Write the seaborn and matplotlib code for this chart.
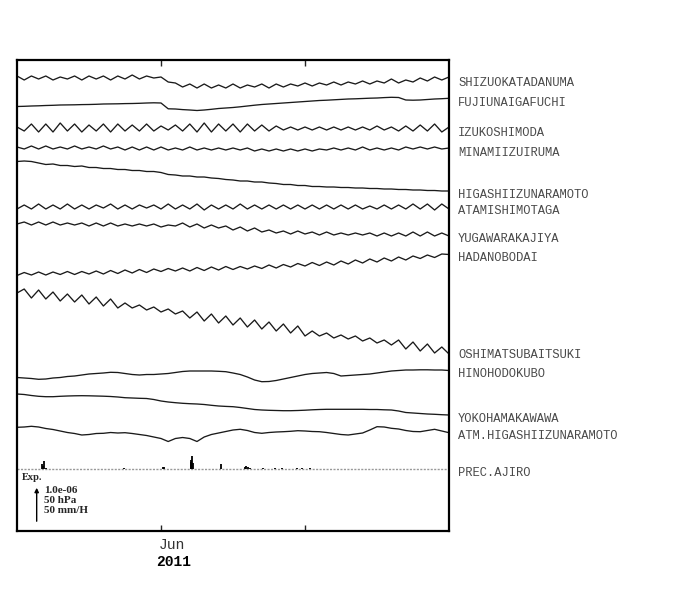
import numpy as np
import pandas as pd
import matplotlib
matplotlib.use("Agg")
import matplotlib.pyplot as plt
import matplotlib.transforms as mtransforms
import seaborn as sns

# station names, top to bottom
stations = ["SHIZUOKATADANUMA", "FUJIUNAIGAFUCHI", "IZUKOSHIMODA", "MINAMIIZUIRUMA",
            "HIGASHIIZUNARAMOTO", "ATAMISHIMOTAGA", "YUGAWARAKAJIYA", "HADANOBODAI",
            "OSHIMATSUBAITSUKI", "HINOHODOKUBO", "YOKOHAMAKAWAWA", "ATM.HIGASHIIZUNARAMOTO",
            "PREC.AJIRO"]

# sample times, days from 2011-06-01 (every 1.5 days)
days = np.arange(-30, 60.01, 1.5)

# trace levels in plot units (stacked, downwards = larger)
shizuoka = [76, 80, 76, 79, 76, 80, 77, 79, 76, 80,
            76, 79, 76, 80, 76, 79, 75, 79, 76, 78,
            77, 82, 83, 87, 84, 88, 84, 88, 85, 88,
            84, 88, 85, 87, 84, 88, 84, 87, 84, 86,
            83, 86, 83, 85, 82, 85, 82, 84, 81, 84,
            81, 83, 79, 83, 80, 82, 78, 81, 77, 80,
            77]
fuji = [106.5, 106.3, 106.0, 105.8, 105.5, 105.3, 105.0, 104.9, 104.8, 104.6,
        104.5, 104.3, 104.0, 103.9, 103.8, 103.6, 103.5, 103.3, 103.0, 102.8,
        103.0, 108.8, 109.0, 109.6, 110.0, 110.5, 110.0, 109.3, 108.5, 108.0,
        107.5, 106.8, 106.0, 105.2, 104.5, 104.0, 103.5, 103.0, 102.5, 102.0,
        101.5, 101.0, 100.5, 100.2, 99.8, 99.4, 99.0, 98.8, 98.5, 98.2,
        98.0, 97.6, 97.3, 97.5, 100.0, 100.2, 100.0, 99.5, 99.0, 98.7,
        98.3]
izuko = [127, 131, 124, 132, 124, 132, 123, 131, 124, 132,
         125, 131, 124, 132, 124, 131, 125, 131, 124, 131,
         126, 130, 125, 131, 124, 132, 123, 132, 124, 131,
         124, 132, 124, 131, 125, 131, 126, 130, 127, 130,
         127, 130, 127, 130, 127, 130, 127, 130, 127, 130,
         126, 130, 127, 131, 126, 131, 125, 131, 124, 132,
         127]
minami = [147, 149, 146, 149, 146, 149, 147, 149, 146, 149,
          147, 149, 146, 149, 147, 150, 147, 150, 147, 150,
          147, 150, 148, 150, 147, 150, 148, 150, 148, 150,
          148, 150, 148, 151, 149, 151, 149, 151, 149, 151,
          149, 151, 149, 150, 148, 150, 148, 150, 147, 150,
          148, 150, 148, 150, 147, 149, 147, 149, 147, 149,
          148]
higashi = [161.5, 161.0, 161.5, 163.0, 164.5, 164.0, 165.5, 165.5, 166.5, 166.0,
           167.5, 167.5, 168.5, 168.5, 169.5, 169.5, 170.5, 170.5, 171.5, 171.5,
           172.5, 174.5, 175.0, 176.0, 176.0, 177.0, 177.0, 178.0, 178.5, 179.5,
           180.0, 181.0, 181.0, 182.0, 182.0, 183.0, 183.5, 184.5, 184.5, 185.5,
           185.5, 186.5, 186.5, 187.0, 187.0, 187.5, 187.5, 188.0, 188.0, 188.5,
           188.5, 189.0, 189.0, 189.5, 189.5, 190.0, 190.0, 190.5, 190.5, 191.0,
           191.0]
atami = [209, 205, 209, 204, 209, 205, 209, 204, 209, 205,
         209, 205, 208, 204, 209, 205, 209, 205, 208, 205,
         209, 204, 209, 205, 209, 204, 210, 205, 209, 205,
         209, 204, 209, 205, 209, 205, 209, 205, 209, 205,
         209, 205, 209, 205, 209, 205, 209, 205, 209, 206,
         209, 205, 209, 205, 209, 204, 209, 204, 210, 204,
         209]
yugawara = [224, 222, 225, 222, 225, 222, 225, 223, 225, 223,
            226, 223, 226, 223, 226, 224, 226, 224, 226, 224,
            227, 225, 226, 223, 227, 224, 228, 225, 228, 226,
            230, 227, 231, 228, 232, 230, 233, 231, 234, 231,
            234, 232, 235, 232, 235, 233, 235, 233, 235, 233,
            236, 233, 236, 233, 236, 232, 236, 232, 236, 233,
            236]
hadano = [275.5, 272.5, 275, 272, 275, 272, 274.5, 271.5, 274.5, 271.5,
          274, 271, 274, 270.5, 273.5, 270, 273, 269.5, 272.5, 269,
          271.5, 268.5, 271, 268, 271, 267.5, 270.5, 267, 270, 266.5,
          269.5, 266.5, 269, 266, 268.5, 265, 268, 264.5, 267, 263.5,
          266, 262.5, 265.5, 262, 265, 261, 264, 260, 263, 259,
          262, 258, 261, 257, 260, 256, 258.5, 255, 257.5, 254,
          254.5]
oshima = [293, 289, 298, 290, 299, 292, 301, 294, 302, 295,
          304, 297, 306, 299, 308, 303, 308, 305, 310, 307,
          312, 309, 314, 311, 318, 312, 321, 314, 323, 316,
          325, 318, 327, 320, 329, 322, 331, 324, 333, 326,
          336, 331, 336, 333, 338, 335, 339, 336, 341, 338,
          343, 340, 345, 340, 349, 342, 351, 344, 353, 347,
          354]
hino = [377.5, 378.0, 378.5, 379.3, 379.0, 378.0, 377.5, 376.5, 376.0, 375.0,
        374.0, 373.5, 373.0, 372.3, 372.5, 373.5, 374.5, 375.0, 374.5, 374.5,
        374.0, 373.5, 372.5, 371.5, 371.0, 371.0, 371.0, 371.0, 371.3, 371.7,
        373.0, 374.5, 377.0, 380.0, 381.7, 381.5, 380.5, 379.0, 377.5, 376.0,
        374.5, 373.5, 373.0, 372.5, 373.5, 376.0, 375.5, 375.0, 374.5, 374.0,
        373.0, 372.0, 371.0, 370.5, 370.0, 370.0, 369.8, 369.8, 370.0, 370.0,
        370.5]
yokohama = [394.0, 394.5, 395.5, 396.3, 396.7, 396.7, 396.3, 396.0, 395.8, 395.7,
            395.8, 396.0, 396.2, 396.5, 397.0, 397.7, 398.0, 398.3, 398.5, 399.5,
            401.0, 402.0, 402.7, 403.3, 403.7, 404.0, 404.5, 405.3, 406.0, 406.4,
            406.7, 407.5, 408.5, 409.5, 410.0, 410.3, 410.5, 410.7, 410.7, 410.5,
            410.2, 409.8, 409.5, 409.3, 409.3, 409.3, 409.3, 409.3, 409.3, 409.5,
            409.5, 409.8, 410.0, 411.0, 412.5, 413.0, 413.5, 414.0, 414.3, 414.7,
            415.0]
atm = [427.3, 427.0, 426.3, 427.0, 428.5, 429.5, 431.0, 432.5, 433.5, 435.0,
       434.5, 433.5, 433.3, 432.5, 433.0, 432.7, 433.5, 434.5, 435.5, 437.0,
       438.5, 441.5, 438.5, 437.5, 438.5, 441.5, 437.0, 434.5, 433.0, 431.5,
       430.0, 429.3, 430.5, 432.5, 433.3, 432.5, 432.0, 431.7, 431.3, 430.7,
       431.0, 431.5, 431.7, 432.5, 433.5, 434.5, 435.0, 434.0, 433.0, 430.0,
       426.7, 427.0, 428.3, 429.0, 430.5, 431.5, 431.7, 430.5, 429.3, 431.0,
       432.7]

# hourly rain at Ajiro (mm/H), days from 2011-06-01
prec_base = 469
prec_days = [-24.85, -24.5, -24.3, -24.0, -7.7, 0.35, 0.62, 6.19, 6.35, 6.52, 6.73,
             12.44, 17.5, 17.8, 18.1, 18.5, 21.25, 23.75, 25.2, 28.3, 29.4, 31.0]
prec_mm = [6, 4, 10, 1, 0.8, 3, 2.5, 8.5, 11, 17, 8,
           6.5, 2.5, 4, 2.5, 1.5, 1, 1, 0.8, 1, 1, 0.8]

# length of scale arrow = 1.0e-06 strain / 50 hPa / 50 mm/H
scale_len = 39

traces = [shizuoka, fuji, izuko, minami, higashi, atami, yugawara,
          hadano, oshima, hino, yokohama, atm]

sns.set_style("white")
plt.rcParams['font.family'] = ['Liberation Mono', 'DejaVu Sans']

df = pd.concat([pd.DataFrame({'station': s, 'day': days, 'level': v})
                for s, v in zip(stations[:-1], traces)], ignore_index=True)

fig = plt.figure(figsize=(7, 5.9), dpi=100)
ax = fig.add_axes([17 / 700, 1 - 531 / 590, 432 / 700, 471 / 590])

sns.lineplot(data=df, x='day', y='level', hue='station', palette=['#1a1a1a'] * 12,
             legend=False, lw=0.95, estimator=None, sort=False, ax=ax,
             solid_joinstyle='round', solid_capstyle='round')

# precipitation
ax.axhline(prec_base, color='#999999', lw=1, ls=(0, (1.5, 1)))
ax.vlines(prec_days, prec_base, prec_base - np.array(prec_mm) * scale_len / 50,
          color='black', lw=1.3)

ax.set_xlim(-30, 60)
ax.set_ylim(531, 60)
ax.set_xlabel('')
ax.set_ylabel('')
ax.set_yticks([])
ax.set_xticks([0, 30])
ax.set_xticklabels([])
ax.tick_params(axis='x', direction='in', length=4, width=1, top=True, bottom=True)
for sp in ax.spines.values():
    sp.set_linewidth(1.6)
    sp.set_color('black')

# station names on the right, just under the end of each trace
trans = mtransforms.blended_transform_factory(ax.transAxes, ax.transData)
ends = [(t[-1] + t[-2]) / 2 for t in traces] + [prec_base]
for name, y in zip(stations, ends):
    ax.text(1.021, y + 4, name, transform=trans, fontsize=8.7, color='#4a4a4a',
            va='center', ha='left', clip_on=False)

# month / year labels
trans_x = mtransforms.blended_transform_factory(ax.transData, ax.transAxes)
ax.text(2.2, -0.03, 'Jun', transform=trans_x, ha='center', va='center',
        fontsize=10.5, color='#333333')
ax.text(2.7, -0.066, '2011', transform=trans_x, ha='center', va='center',
        fontsize=10.5, fontweight='bold', color='black')

# scale legend
ax.text(-29.0, 478, 'Exp.', fontsize=7.5, fontweight='bold', family='Liberation Serif',
        ha='left', va='center')
ax.annotate('', xy=(-25.9, 485), xytext=(-25.9, 485 + scale_len),
            arrowprops=dict(arrowstyle='-|>', color='black', lw=1, mutation_scale=6))
for txt, y in zip(['1.0e-06', '50 hPa', '50 mm/H'], [490.3, 500.5, 510.5]):
    ax.text(-24.4, y, txt, fontsize=8, fontweight='bold', family='Liberation Serif',
            ha='left', va='center')

fig.savefig('out.png', dpi=100)
